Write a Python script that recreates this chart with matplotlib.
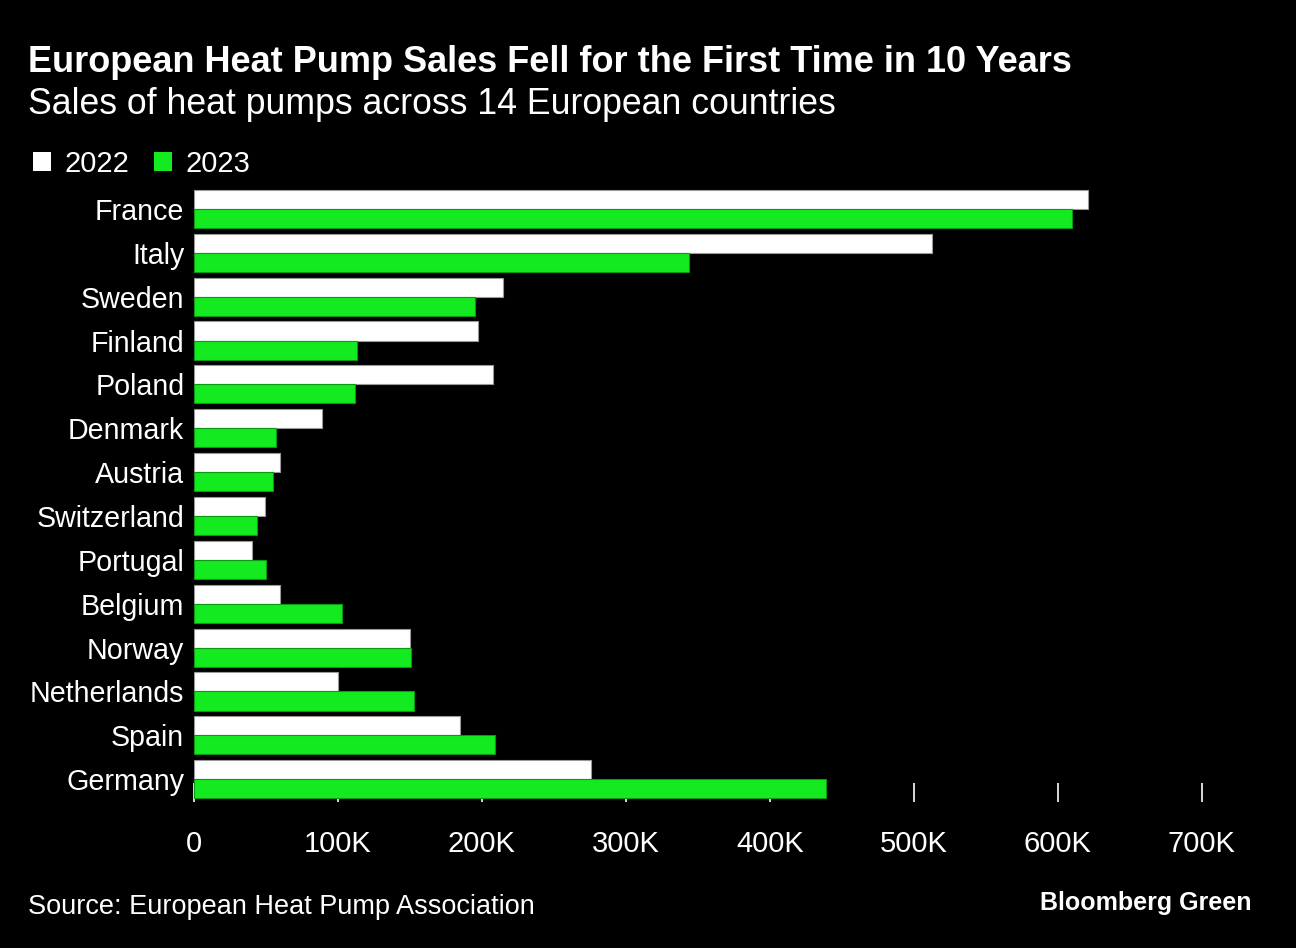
import numpy as np
from matplotlib import pyplot as plt
from matplotlib.patches import Patch

plt.rcParams.update({
    "font.family": ["Liberation Sans", "DejaVu Sans"],
    "font.size": 21,
    "text.color": "white",
})

countries = ["France", "Italy", "Sweden", "Finland", "Poland", "Denmark", "Austria",
             "Switzerland", "Portugal", "Belgium", "Norway", "Netherlands", "Spain", "Germany"]
sales_2022 = [621, 513, 215, 197, 208, 89, 60, 49, 40, 60, 150, 100, 185, 276]   # thousands
sales_2023 = [610, 344, 195, 113, 112, 57, 55, 44, 50, 103, 151, 153, 209, 439]
xticks = [0, 100, 200, 300, 400, 500, 600, 700]
xticklabels = ["0", "100K", "200K", "300K", "400K", "500K", "600K", "700K"]

white = "#ffffff"
green = "#13eb20"

fig = plt.figure(figsize=(12.96, 9.48), dpi=100, facecolor="black")
W, H = 1296, 948
ax = fig.add_axes([194 / W, 1 - 802 / H, (1252 - 194) / W, (802 - 187) / H])
ax.set_facecolor("black")

y = np.arange(len(countries))
h = 0.435
ax.barh(y - h / 2, sales_2022, height=h, color=white, edgecolor="#999999", linewidth=0.8, zorder=3)
ax.barh(y + h / 2, sales_2023, height=h, color=green, edgecolor="#0a9a12", linewidth=0.8, zorder=3)

ax.set_xlim(0, 735)
ax.set_ylim(13.52, -0.5)
ax.set_yticks(y, countries)
ax.set_xticks(xticks, xticklabels)
ax.tick_params(axis="y", length=0, pad=7, labelsize=20.6, labelcolor="white")
ax.tick_params(axis="x", direction="in", length=14, width=1.2, color="white",
               pad=20, labelsize=21, labelcolor="white")
for s in ax.spines.values():
    s.set_visible(False)

fig.text(28 / W, 1 - 62 / H, "European Heat Pump Sales Fell for the First Time in 10 Years",
         fontsize=26, fontweight="bold", va="center", ha="left")
fig.text(28 / W, 1 - 104 / H, "Sales of heat pumps across 14 European countries",
         fontsize=25.7, va="center", ha="left")

handles = [Patch(facecolor=white, edgecolor="none"), Patch(facecolor=green, edgecolor="none")]
fig.legend(handles, ["2022", "2023"], loc="center left", bbox_to_anchor=(33 / W, 1 - 164 / H),
           ncol=2, frameon=False, fontsize=21, handlelength=0.62, handleheight=0.6,
           handletextpad=0.45, columnspacing=0.85, borderpad=0, borderaxespad=0,
           labelcolor="white")

fig.text(28 / W, 1 - 907 / H, "Source: European Heat Pump Association", fontsize=19.5,
         va="center", ha="left")
fig.text(1252 / W, 1 - 903 / H, "Bloomberg Green", fontsize=18, fontweight="bold",
         va="center", ha="right")

fig.savefig("out.png", dpi=100, facecolor="black")
